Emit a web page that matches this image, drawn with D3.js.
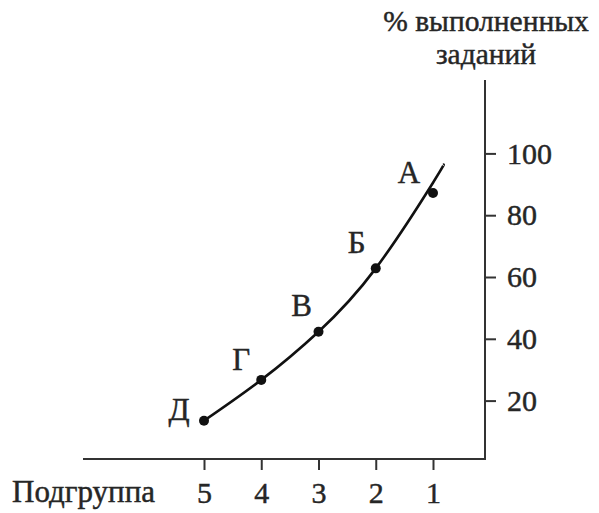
<!DOCTYPE html>
<html>
<head>
<meta charset="utf-8">
<script src="https://cdn.jsdelivr.net/npm/d3@7"></script>
<style>
  html, body { margin: 0; padding: 0; background: #fff; }
  svg { display: block; }
  text { font-family: "Liberation Serif", "Times New Roman", "DejaVu Serif", serif; fill: #262626; }
</style>
</head>
<body>
<svg id="chart" width="599" height="513"></svg>
<script>
// ---- data ----
const subgroups = [5, 4, 3, 2, 1];
const pointLabels = ["Д", "Г", "В", "Б", "А"];
const pointValues = [13.5, 26.7, 42.3, 62.8, 87.2];
const curveX = [5, 4, 3, 2, 1, 0.82];
const curveY = [13.5, 26.7, 42.3, 62.8, 90.5, 96.3];
const yTicks = [20, 40, 60, 80, 100];
const xTickLabels = ["5", "4", "3", "2", "1"];
const xAxisTitle = "Подгруппа";
const yAxisTitle = ["% выполненных", "заданий"];

// ---- layout ----
const svg = d3.select("#chart");
const FS = 31;
const FS_TITLE = 29.5;
const FS_NUM = 30;
const FONT = '"Liberation Serif", "Times New Roman", "DejaVu Serif", serif';
const textColor = "#262626";
const axisColor = "#333";
const axisY = 459;      // x-axis line position
const axisX = 485;      // y-axis line position

const x = d3.scaleLinear().domain([5, 1]).range([204, 433]);
const y = d3.scaleLinear().domain([0, 100]).range([462.4, 153.4]);

function styleText(sel, size) {
  sel.attr("font-size", size)
     .attr("fill", textColor)
     .attr("stroke", textColor)
     .attr("stroke-width", 0.45)
     .style("font-family", FONT);
}

// axis lines
svg.append("line")
  .attr("x1", 83).attr("x2", axisX + 1)
  .attr("y1", axisY).attr("y2", axisY)
  .attr("stroke", axisColor).attr("stroke-width", 2);
svg.append("line")
  .attr("x1", axisX).attr("x2", axisX)
  .attr("y1", 80).attr("y2", axisY + 1)
  .attr("stroke", axisColor).attr("stroke-width", 2);

// x axis ticks
const xAxis = d3.axisBottom(x)
  .tickValues(subgroups)
  .tickFormat((d, i) => xTickLabels[i])
  .tickSize(11).tickSizeOuter(0).tickPadding(11.5);
const gx = svg.append("g").attr("transform", `translate(0,${axisY})`).call(xAxis);
gx.select(".domain").remove();
gx.selectAll(".tick line").attr("stroke", axisColor).attr("stroke-width", 2);
styleText(gx.selectAll(".tick text"), FS_NUM);

// y axis ticks (on right side)
const yAxis = d3.axisRight(y)
  .tickValues(yTicks)
  .tickSize(11).tickSizeOuter(0).tickPadding(11);
const gy = svg.append("g").attr("transform", `translate(${axisX},0)`).call(yAxis);
gy.select(".domain").remove();
gy.selectAll(".tick line").attr("stroke", axisColor).attr("stroke-width", 2);
styleText(gy.selectAll(".tick text"), FS_NUM);

// axis titles
styleText(svg.append("text").attr("x", 12).attr("y", 502).text(xAxisTitle), FS);
yAxisTitle.forEach((t, i) => {
  const tt = svg.append("text").attr("text-anchor", "middle")
    .attr("x", 486).attr("y", 31 + i * 33).text(t);
  styleText(tt, FS_TITLE);
});

// fitted curve
const curvePts = curveX.map((d, i) => [x(d), y(curveY[i])]);
svg.append("path")
  .datum(curvePts)
  .attr("d", d3.line().curve(d3.curveNatural))
  .attr("fill", "none").attr("stroke", "#111").attr("stroke-width", 2.6);

// points
svg.selectAll("circle.pt").data(pointValues).enter().append("circle")
  .attr("class", "pt")
  .attr("cx", (d, i) => x(subgroups[i]))
  .attr("cy", d => y(d))
  .attr("r", 5).attr("fill", "#111");

// point labels
const labelOffsets = [[-25, -1], [-20, -10], [-17, -16], [-19, -15], [-24, -10]];
const pl = svg.selectAll("text.pl").data(pointValues).enter().append("text")
  .attr("class", "pl")
  .attr("text-anchor", "middle")
  .attr("x", (d, i) => x(subgroups[i]) + labelOffsets[i][0])
  .attr("y", (d, i) => y(d) + labelOffsets[i][1])
  .text((d, i) => pointLabels[i]);
styleText(pl, FS);
</script>
</body>
</html>
